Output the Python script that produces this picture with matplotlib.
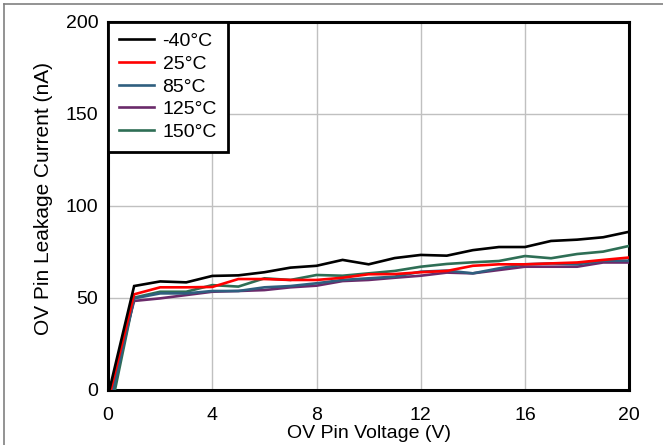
import matplotlib
matplotlib.use("Agg")
import matplotlib.pyplot as plt
from matplotlib.lines import Line2D

plt.rcParams['font.family'] = ['Liberation Sans', 'DejaVu Sans']

# OV pin voltage (V)
voltage = [0, 1, 2, 3, 4, 5, 6, 7, 8, 9, 10, 11, 12, 13, 14, 15, 16, 17, 18, 19, 20]

# leakage current (nA) per temperature
i_m40 = [-3, 56.5, 59, 58.5, 62, 62.3, 64, 66.5, 67.5, 70.7, 68.3, 71.7, 73.4, 73, 76, 77.7, 77.7, 81, 81.7, 83, 86]
i_25 = [-6, 52, 55.8, 55.8, 56, 60.3, 60.3, 59.8, 59.8, 61, 62.9, 63, 64, 64.7, 67.5, 68.3, 68.3, 68.8, 69.3, 70.7, 72]
i_85 = [-12, 49.8, 52.5, 52.5, 53.8, 53.8, 55.8, 56.5, 58, 59.8, 60.7, 61.6, 64.3, 64.9, 63.4, 66.1, 68.3, 68.8, 68.3, 70.3, 70.3]
i_125 = [-5, 48.4, 49.8, 51.6, 53.4, 53.8, 54.3, 55.8, 56.7, 59.2, 59.8, 61, 62.1, 63.8, 63.4, 65.2, 67, 67, 67, 69.3, 69.3]
i_150 = [-18, 50.2, 53.4, 53.4, 57, 56.2, 60.7, 59.8, 62.5, 62.1, 63.4, 64.7, 67, 68.5, 69.4, 70.1, 72.8, 71.6, 73.9, 75.2, 78.3]

labels = ['-40°C', '25°C', '85°C', '125°C', '150°C']
colors = ['#000000', '#ff0000', '#2f5f7f', '#6a2a6a', '#2e6e55']

fig = plt.figure(figsize=(6.63, 4.45), dpi=100)
ax = fig.add_axes([0.163, 0.1236, 0.786, 0.827])

series = [i_m40, i_25, i_85, i_125, i_150]
# draw hotter curves first so -40 ends on top like the original
for k in [4, 3, 2, 1, 0]:
    ax.plot(voltage, series[k], color=colors[k], lw=1.9, label=labels[k],
            solid_joinstyle='miter', zorder=3 + (4 - k))

ax.set_xlim(0, 20)
ax.set_ylim(0, 200)
ax.set_xticks([0, 4, 8, 12, 16, 20])
ax.set_yticks([0, 50, 100, 150, 200])
ax.tick_params(length=0, labelsize=14)
ax.tick_params(axis='x', pad=12)
ax.tick_params(axis='y', pad=7)
ax.grid(True, color='#c0c0c0', lw=1)
ax.set_axisbelow(True)
for s in ax.spines.values():
    s.set_linewidth(2.2)
ax.set_xlabel('OV Pin Voltage (V)', fontsize=14, labelpad=1)
ax.set_ylabel('OV Pin Leakage Current (nA)', fontsize=15)
ax.yaxis.set_label_coords(-0.106, 0.52)

handles = [Line2D([], [], color=c, lw=1.9) for c in colors]
leg = ax.legend(handles, labels, loc='upper left', fontsize=14, fancybox=False,
                framealpha=1, edgecolor='black', borderaxespad=0,
                handlelength=1.8, handletextpad=0.45, labelspacing=0.26,
                borderpad=0.55)
leg.get_frame().set_linewidth(2)

# outer frame of the original figure
fig.add_artist(Line2D([4 / 663, 4 / 663], [0, 1 - 4 / 445], color='#808080', lw=1.2))
fig.add_artist(Line2D([4 / 663, 1], [1 - 4 / 445, 1 - 4 / 445], color='#808080', lw=1.2))

fig.savefig('out.png', dpi=100)
